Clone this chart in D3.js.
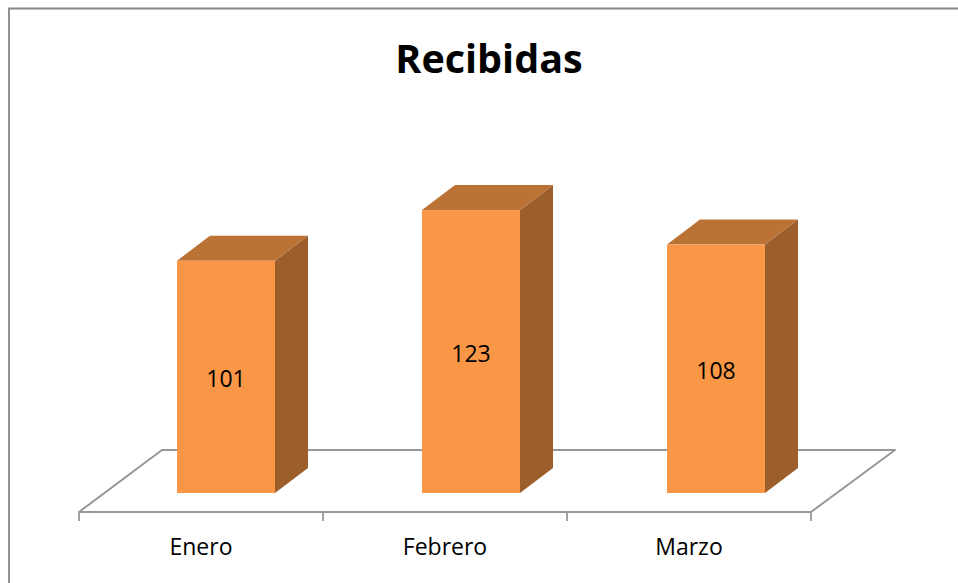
<!DOCTYPE html>
<html><head><meta charset="utf-8">
<script src="https://d3js.org/d3.v7.min.js"></script>
<style>html,body{margin:0;padding:0;background:#fff}svg{display:block}text{font-family:"Open Sans",Lato,sans-serif;fill:#000}</style>
</head><body><div id="c"></div>
<script>
const categories = ["Enero","Febrero","Marzo"];
const values = [101,123,108];
const title = "Recibidas";

const W=958,H=583;
const depthX=33, depthY=25;
const baseY=493;
const x=d3.scaleBand().domain(categories).range([79,811]).paddingInner(0).paddingOuter(0);
const barCenter=d3.scalePoint().domain(categories).range([226,716]);
const barW=98;
const y=d3.scaleLinear().domain([0,100]).range([baseY,baseY-230]);
const svg=d3.select("#c").append("svg").attr("width",W).attr("height",H);

// outer frame
svg.append("path").attr("d",`M9,583V8.5H958`).attr("fill","none").attr("stroke","#868686").attr("stroke-width",1.8);

// floor
const fl=79,fr=811,fy=512,bl=162,br=895,by=450;
svg.append("path").attr("d",`M${fl},${fy}L${bl},${by}H${br}L${fr},${fy}Z`)
  .attr("fill","#fff").attr("stroke","#989898").attr("stroke-width",2).attr("stroke-linejoin","round");

// category axis ticks
const tickPos=[...categories.map(c=>x(c)),fr];
svg.append("g").selectAll("line").data(tickPos).join("line")
  .attr("x1",d=>d).attr("x2",d=>d).attr("y1",fy).attr("y2",fy+9)
  .attr("stroke","#989898").attr("stroke-width",1.8);

svg.append("g").selectAll("text").data(categories).join("text")
  .attr("x",c=>x(c)+x.bandwidth()/2).attr("y",555)
  .attr("text-anchor","middle").attr("font-size",23).text(c=>c);

// bars
const g=svg.append("g").selectAll("g").data(categories.map((c,i)=>({c,v:values[i]}))).join("g");
const left=d=>barCenter(d.c)-barW/2;
g.append("path").attr("fill","#9c5f2b").attr("d",d=>{const l=left(d)+barW,t=y(d.v);
  return `M${l},${t}L${l+depthX},${t-depthY}V${baseY-depthY}L${l},${baseY}Z`;});
g.append("path").attr("fill","#bb7235").attr("d",d=>{const l=left(d),t=y(d.v);
  return `M${l},${t}L${l+depthX},${t-depthY}H${l+barW+depthX}L${l+barW},${t}Z`;});
g.append("rect").attr("fill","#f99746").attr("x",left).attr("y",d=>y(d.v)).attr("width",barW).attr("height",d=>baseY-y(d.v));
g.append("text").attr("x",d=>left(d)+barW/2).attr("y",d=>(y(d.v)+baseY)/2+10)
  .attr("text-anchor","middle").attr("font-size",23).text(d=>d.v);

svg.append("text").attr("x",489).attr("y",73).attr("text-anchor","middle")
  .attr("font-size",39.5).attr("font-weight",700).text(title);
</script></body></html>
